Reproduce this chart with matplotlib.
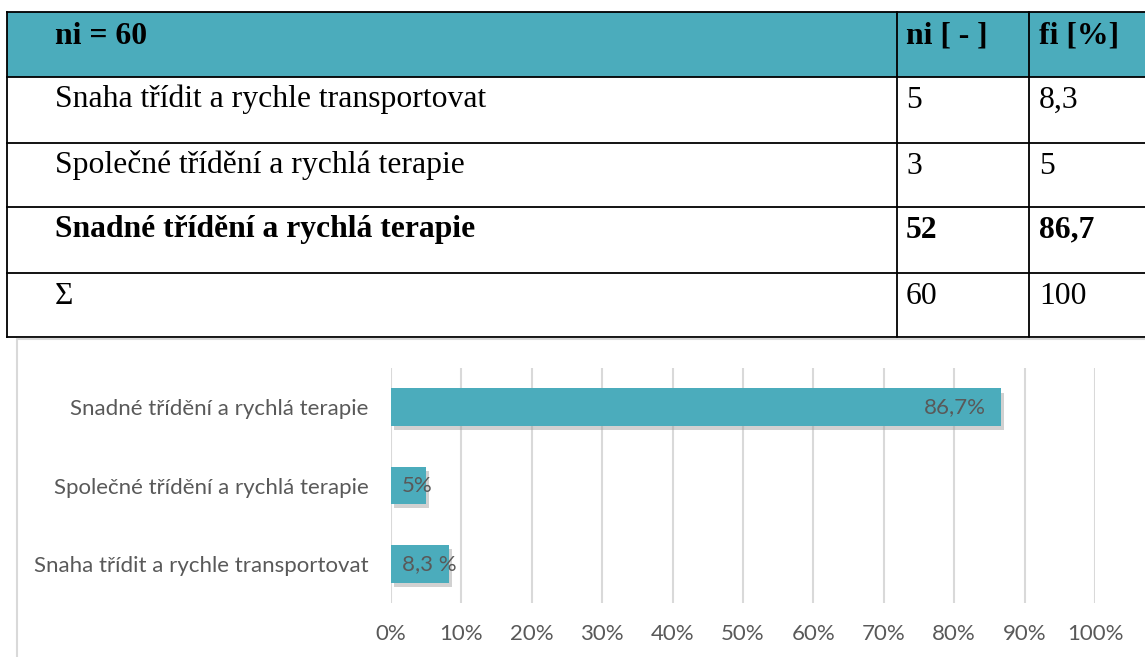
import matplotlib.pyplot as plt
import matplotlib.patheffects as pe
from matplotlib.patches import Rectangle

# table data
headers = ['ni = 60', 'ni [ - ]', 'fi [%]']
rowNames = ['Snaha třídit a rychle transportovat',
            'Společné třídění a rychlá terapie',
            'Snadné třídění a rychlá terapie',
            'Σ']
rowCounts = ['5', '3', '52', '60']
rowShares = ['8,3', '5', '86,7', '100']
boldRows = [False, False, True, False]

# chart data (bottom to top)
categories = ['Snaha třídit a rychle transportovat',
              'Společné třídění a rychlá terapie',
              'Snadné třídění a rychlá terapie']
values = [8.3, 5, 86.7]
valueLabels = ['8,3 %', '5%', '86,7%']
xticks = list(range(0, 101, 10))

teal = '#4BACBC'
gray = '#595959'
grid = '#D9D9D9'

W, H = 1145, 657
fig = plt.figure(figsize=(W / 100, H / 100), dpi=100)

#---------------------------------------#
# table drawn in pixel coords on an     #
# overlay axes covering the whole figure#
#---------------------------------------#
tab = fig.add_axes([0, 0, 1, 1])
tab.set_xlim(0, W)
tab.set_ylim(H, 0)
tab.axis('off')

colX = [7, 897, 1029, 1160]
rowY = [12, 77, 143, 207, 273, 337]
textX = [55, 906, 1039]

tab.add_patch(Rectangle((colX[0], rowY[0]), colX[-1] - colX[0], rowY[1] - rowY[0],
                        facecolor=teal, edgecolor='none'))
for y in rowY:
  tab.plot([colX[0], colX[-1]], [y, y], color='black', lw=1.3)
for x in colX[:-1]:
  tab.plot([x, x], [rowY[0], rowY[-1]], color='black', lw=1.3)

serif = 'Liberation Serif'
fs = 22.8
for j, h in enumerate(headers):
  tab.text(textX[j], rowY[0] + 32, h, fontsize=fs, family=serif, weight='bold',
           va='baseline', ha='left')
for i in range(len(rowNames)):
  wt = 'bold' if boldRows[i] else 'normal'
  base = rowY[i + 1] + 30.5
  for j, t in enumerate([rowNames[i], rowCounts[i], rowShares[i]]):
    tab.text(textX[j], base, t, fontsize=fs, family=serif, weight=wt,
             va='baseline', ha='left')

# chart frame
tab.plot([17, 17, 1160], [H + 5, 339, 339], color=grid, lw=1.5)

#---------------------------------------#
# bar chart                             #
#---------------------------------------#
ax = fig.add_axes([391 / W, (H - 603) / H, 704 / W, 235 / H])
ypos = list(range(len(categories)))
bars = ax.barh(ypos, values, height=0.48, color=teal, zorder=3)
for b in bars:
  b.set_path_effects([pe.SimplePatchShadow(offset=(2, -3), shadow_rgbFace='#999999', alpha=0.45),
                      pe.Normal()])
ax.set_xlim(0, 100)
ax.set_ylim(-0.5, 2.5)
ax.set_xticks(xticks)
ax.set_xticklabels(['{}%'.format(t) for t in xticks])
ax.set_yticks(ypos)
ax.set_yticklabels(categories)
ax.grid(axis='x', color=grid, lw=1.5, zorder=0)
ax.set_axisbelow(True)
for s in ax.spines.values():
  s.set_visible(False)
ax.tick_params(length=0, labelsize=16, labelcolor=gray)
ax.tick_params(axis='x', pad=15)
ax.tick_params(axis='y', pad=16)
for lab in ax.get_xticklabels() + ax.get_yticklabels():
  lab.set_family('Lato')

for y, v, lbl in zip(ypos, values, valueLabels):
  if v < 15:
    ax.text(1.6, y, lbl, ha='left', va='center', fontsize=16, color=gray,
            family='Lato', zorder=4)
  else:
    ax.text(v - 2.2, y, lbl, ha='right', va='center', fontsize=16, color=gray,
            family='Lato', zorder=4)

fig.savefig('out.png', dpi=100)
